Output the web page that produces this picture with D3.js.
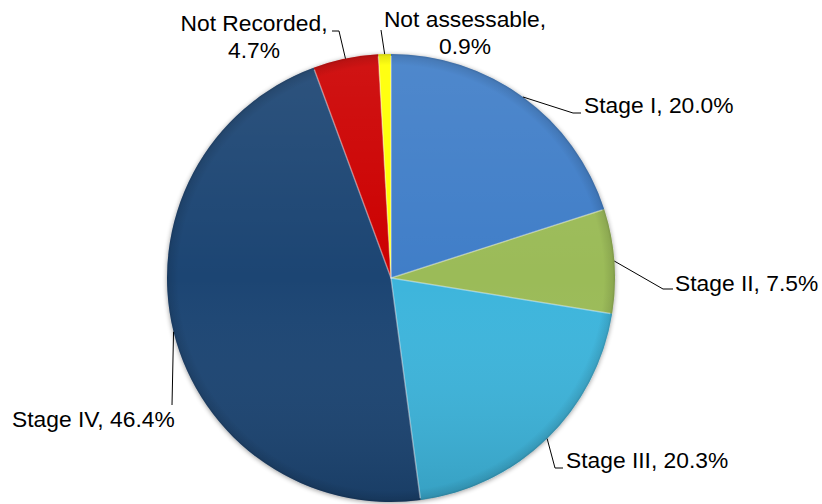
<!DOCTYPE html>
<html>
<head>
<meta charset="utf-8">
<script src="https://cdn.jsdelivr.net/npm/d3@7"></script>
<style>
  html, body { margin: 0; padding: 0; background: #ffffff; }
  svg { display: block; }
  text { font-family: "Liberation Sans", Arial, sans-serif; font-size: 22.8px; fill: #000; }
</style>
</head>
<body>
<svg id="chart" width="822" height="504"></svg>
<script>
// Cancer stage distribution
const categories = ["Stage I", "Stage II", "Stage III", "Stage IV", "Not Recorded", "Not assessable"];
const percentages = [20.0, 7.5, 20.3, 46.4, 4.7, 0.9];
const sliceColors = ["#3f7ec8", "#9bbb59", "#3cb5dc", "#1f4573", "#cc0000", "#ffff00"];

// Label placement: elbow point, line end, text anchor and alignment
const labelLayout = [
  { elbow: [573, 113], end: [581, 113], text: [584, 113], anchor: "start", lines: 1 },
  { elbow: [663, 289], end: [673, 289], text: [675, 291], anchor: "start", lines: 1 },
  { elbow: [555, 468], end: [563, 468], text: [566, 468], anchor: "start", lines: 1 },
  { elbow: [172, 405], end: [172, 405], text: [12, 427], anchor: "start", lines: 1 },
  { elbow: [339, 31],  end: [332, 31],  text: [254, 31], anchor: "middle", lines: 2 },
  { elbow: [381, 30],  end: [381, 30],  text: [465, 27], anchor: "middle", lines: 2 }
];

const svg = d3.select("#chart");
const cx = 391, cy = 278, radius = 224;

const data = categories.map((c, i) => ({ name: c, value: percentages[i], color: sliceColors[i], i }));

const pie = d3.pie().sort(null).value(d => d.value).startAngle(0).endAngle(2 * Math.PI);
const arcs = pie(data);
const arc = d3.arc().innerRadius(0).outerRadius(radius);

const defs = svg.append("defs");

// soft shadow behind the disc
const shadow = defs.append("filter").attr("id", "shadow")
  .attr("x", "-10%").attr("y", "-10%").attr("width", "120%").attr("height", "120%");
shadow.append("feGaussianBlur").attr("in", "SourceAlpha").attr("stdDeviation", 2.5).attr("result", "b");
shadow.append("feOffset").attr("in", "b").attr("dx", 0).attr("dy", 1).attr("result", "o");
shadow.append("feComponentTransfer").attr("in", "o").attr("result", "s")
  .append("feFuncA").attr("type", "linear").attr("slope", 0.4);
const merge = shadow.append("feMerge");
merge.append("feMergeNode").attr("in", "s");
merge.append("feMergeNode").attr("in", "SourceGraphic");

// top-to-bottom light falloff
const vert = defs.append("linearGradient").attr("id", "vert")
  .attr("x1", 0).attr("y1", 0).attr("x2", 0).attr("y2", 1);
vert.append("stop").attr("offset", "0%").attr("stop-color", "#fff").attr("stop-opacity", 0.08);
vert.append("stop").attr("offset", "50%").attr("stop-color", "#fff").attr("stop-opacity", 0);
vert.append("stop").attr("offset", "100%").attr("stop-color", "#000").attr("stop-opacity", 0.12);

// darkened rim
const rim = defs.append("radialGradient").attr("id", "rim")
  .attr("cx", "50%").attr("cy", "50%").attr("r", "50%");
rim.append("stop").attr("offset", "95%").attr("stop-color", "#000").attr("stop-opacity", 0);
rim.append("stop").attr("offset", "99%").attr("stop-color", "#000").attr("stop-opacity", 0.1);
rim.append("stop").attr("offset", "100%").attr("stop-color", "#000").attr("stop-opacity", 0.2);

const g = svg.append("g").attr("transform", `translate(${cx},${cy})`);

const slices = g.append("g").attr("filter", "url(#shadow)");
slices.selectAll("path.slice")
  .data(arcs)
  .join("path")
  .attr("class", "slice")
  .attr("d", arc)
  .attr("fill", d => d.data.color);

// shading overlays
g.append("circle").attr("r", radius).attr("fill", "url(#vert)").attr("pointer-events", "none");
g.append("circle").attr("r", radius).attr("fill", "url(#rim)").attr("pointer-events", "none");

// bevel highlight along the radial edges of each slice
g.selectAll("path.bevel")
  .data(arcs)
  .join("path")
  .attr("class", "bevel")
  .attr("d", d => {
    const r = radius - 2;
    return d3.line()([
      [r * Math.sin(d.startAngle), -r * Math.cos(d.startAngle)],
      [0, 0],
      [r * Math.sin(d.endAngle), -r * Math.cos(d.endAngle)]
    ]);
  })
  .attr("fill", "none")
  .attr("stroke", "#ffffff")
  .attr("stroke-opacity", 0.22)
  .attr("stroke-width", 1.5)
  .attr("stroke-linejoin", "round");

// leader lines
const lineGen = d3.line();
svg.append("g").selectAll("path.leader")
  .data(arcs)
  .join("path")
  .attr("class", "leader")
  .attr("fill", "none")
  .attr("stroke", "#000")
  .attr("stroke-width", 1)
  .attr("d", d => {
    const mid = (d.startAngle + d.endAngle) / 2;
    const start = [cx + radius * Math.sin(mid), cy - radius * Math.cos(mid)];
    const L = labelLayout[d.index];
    return lineGen([start, L.elbow, L.end]);
  });

// labels
const fmt = d3.format(".1f");
const labels = svg.append("g").selectAll("text.label")
  .data(arcs)
  .join("text")
  .attr("class", "label")
  .attr("x", d => labelLayout[d.index].text[0])
  .attr("y", d => labelLayout[d.index].text[1])
  .attr("text-anchor", d => labelLayout[d.index].anchor);

labels.each(function(d) {
  const L = labelLayout[d.index];
  const t = d3.select(this);
  const pct = fmt(d.data.value) + "%";
  if (L.lines === 2) {
    t.append("tspan").attr("x", L.text[0]).text(d.data.name + ",");
    t.append("tspan").attr("x", L.text[0]).attr("dy", 26.5).text(pct);
  } else {
    t.text(d.data.name + ", " + pct);
  }
});
</script>
</body>
</html>
